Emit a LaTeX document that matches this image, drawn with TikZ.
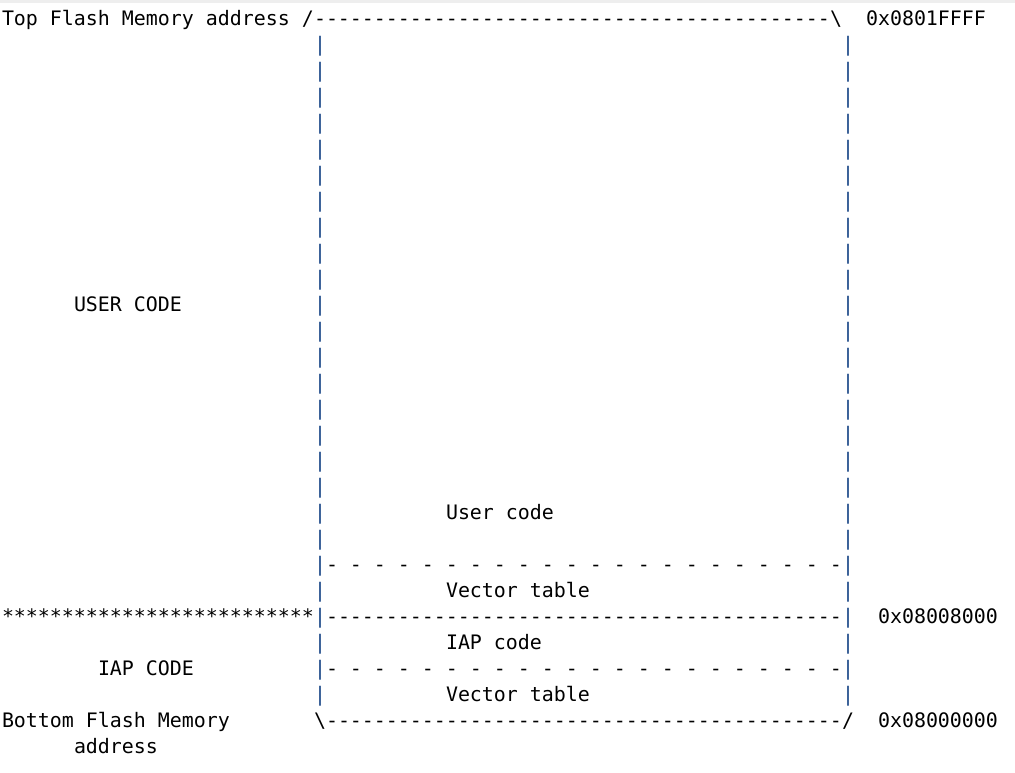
\documentclass[tikz,border=0pt]{standalone}
\usepackage{fontspec}
\setmonofont{DejaVu Sans Mono}
\ExplSyntaxOn
\cs_new:Npn \myrep #1#2 { \prg_replicate:nn {#1} {#2} }
\ExplSyntaxOff
\definecolor{barblue}{RGB}{25,70,135}
\definecolor{topstrip}{RGB}{238,238,238}
\tikzset{
  txt/.style={anchor=base west,inner sep=0pt,outer sep=0pt,text=black,
    font=\fontsize{19.93}{26}\selectfont\ttfamily},
  bartxt/.style={txt,text=barblue}
}
\begin{document}
\begin{tikzpicture}[x=1pt,y=-1pt]
\path[use as bounding box,fill=white] (0,0) rectangle (1015,772);
\fill[topstrip] (0,0) rectangle (1015,3);
% column c -> x = 2+12c ; row r -> baseline y = 25+26r
% row 0
\node[txt] (top) at (2,25) {Top Flash Memory address /};
\node[txt] (topline) at ({2+12*26},25) {\myrep{43}{-}};
\node[txt] (topend) at ({2+12*69},25) {\textbackslash};
\node[txt] (topaddr) at ({2+12*72},25) {0x0801FFFF};
% bars rows 1..26
\foreach \r in {1,...,26}{
  \node[bartxt] (lb\r) at ({2+12*26},{25+26*\r}) {|};
  \node[bartxt] (rb\r) at ({2+12*70},{25+26*\r}) {|};
}
% labels
\node[txt] (usercode) at ({2+12*6},{25+26*11}) {USER CODE};
\node[txt] (userc) at ({2+12*37},{25+26*19}) {User code};
\node[txt] (dash1) at ({2+12*27},{25+26*21}) {\myrep{21}{-\ }-};
\node[txt] (vt1) at ({2+12*37},{25+26*22}) {Vector table};
\node[txt] (stars) at (2,{25+26*23}) {\myrep{26}{*}};
\node[txt] (midline) at ({2+12*27},{25+26*23}) {\myrep{43}{-}};
\node[txt] (midaddr) at ({2+12*73},{25+26*23}) {0x08008000};
\node[txt] (iapc) at ({2+12*37},{25+26*24}) {IAP code};
\node[txt] (iapcode) at ({2+12*8},{25+26*25}) {IAP CODE};
\node[txt] (dash2) at ({2+12*27},{25+26*25}) {\myrep{21}{-\ }-};
\node[txt] (vt2) at ({2+12*37},{25+26*26}) {Vector table};
% row 27
\node[txt] (bottom) at (2,{25+26*27}) {Bottom Flash Memory};
\node[txt] (botstart) at ({2+12*26},{25+26*27}) {\textbackslash};
\node[txt] (botline) at ({2+12*27},{25+26*27}) {\myrep{43}{-}};
\node[txt] (botend) at ({2+12*70},{25+26*27}) {/};
\node[txt] (botaddr) at ({2+12*73},{25+26*27}) {0x08000000};
% row 28
\node[txt] (address) at ({2+12*6},{25+26*28}) {address};
\end{tikzpicture}
\end{document}
